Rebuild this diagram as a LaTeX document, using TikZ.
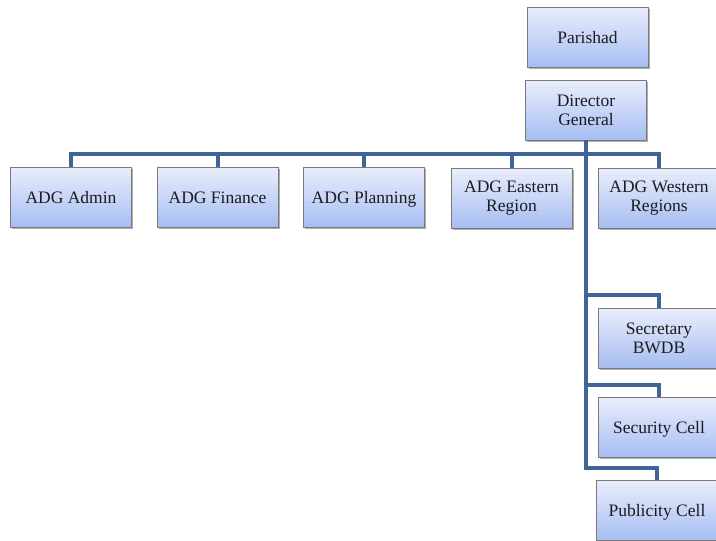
\documentclass[tikz,border=0pt]{standalone}
\usepackage{fontspec}
\setmainfont{Liberation Serif}
\usetikzlibrary{shadows,calc}
\definecolor{boxtop}{HTML}{EAEEFC}
\definecolor{boxbot}{HTML}{A6BDF2}
\definecolor{boxedge}{HTML}{7A7A7A}
\definecolor{linkblue}{HTML}{3E6596}
\definecolor{labeltext}{HTML}{1C1C1C}
\begin{document}
\begin{tikzpicture}[x=1pt,y=-1pt,
  orgbox/.style={draw=boxedge, line width=0.8pt, top color=boxtop, bottom color=boxbot,
    minimum width=121pt, minimum height=60pt, align=center, inner sep=2pt,
    text=labeltext, font=\fontsize{17.5}{19}\selectfont,
    drop shadow={shadow xshift=1.5pt, shadow yshift=-2pt, opacity=0.45, fill=black!70}},
  oneline/.style={orgbox, text height=12pt, text depth=0pt},
  link/.style={draw=linkblue, line width=4pt}]
\useasboundingbox (0,0) rectangle (716,541);
\clip (0,0) rectangle (716,541);

% top of the hierarchy
\node[oneline] (par) at (587.5,37) {Parishad};
\node[orgbox] (dg)  at (586,110) {Director\\General};

% first row of additional directors general
\node[oneline] (admin)   at (71,197)    {ADG Admin};
\node[oneline] (finance) at (217.5,197) {ADG Finance};
\node[oneline] (plan)    at (364,197)   {ADG Planning};
\node[orgbox]  (east)    at (511.5,198) {ADG Eastern\\Region};
\node[orgbox]  (west)    at (659,198)   {ADG Western\\Regions};

% cells hanging off the trunk
\node[orgbox]  (sec)  at (659,338) {Secretary\\BWDB};
\node[oneline] (secu) at (659,427) {Security Cell};
\node[oneline] (pub)  at (657,510) {Publicity Cell};

% connectors
\draw[link] (dg.south) -- ++(0,14) -| (admin.north);
\draw[link] (dg.south) -- ++(0,14) -| (finance.north);
\draw[link] (dg.south) -- ++(0,14) -| (plan.north);
\draw[link] (dg.south) -- ++(0,14) -| (east.north);
\draw[link] (dg.south) -- ++(0,14) -| (west.north);
\draw[link] (dg.south) |- ($(sec.north)+(0,-13)$) -- (sec.north);
\draw[link] (dg.south) |- ($(secu.north)+(0,-12)$) -- (secu.north);
\draw[link] (dg.south) |- ($(pub.north)+(0,-12)$) -- (pub.north);
\end{tikzpicture}
\end{document}
